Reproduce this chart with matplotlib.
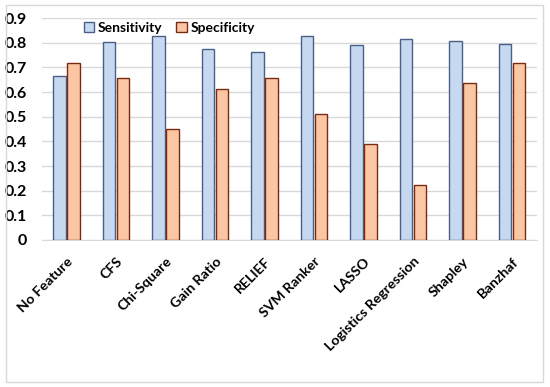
import numpy as np
import matplotlib.pyplot as plt
from matplotlib.patches import Rectangle

methods = ["No Feature", "CFS", "Chi-Square", "Gain Ratio", "RELIEF",
           "SVM Ranker", "LASSO", "Logistics Regression", "Shapley", "Banzhaf"]
sensitivity = [0.667, 0.804, 0.828, 0.774, 0.762, 0.828, 0.791, 0.815, 0.808, 0.797]
specificity = [0.718, 0.656, 0.452, 0.614, 0.656, 0.512, 0.389, 0.224, 0.637, 0.718]
yticks = [0, 0.1, 0.2, 0.3, 0.4, 0.5, 0.6, 0.7, 0.8, 0.9]

plt.rcParams['font.family'] = ['Lato', 'DejaVu Sans']

fig = plt.figure(figsize=(5.5, 3.87), dpi=100)
ax = fig.add_axes([0.076, 0.38, 0.9, 0.573])

x = np.arange(len(methods))
w = 0.25
ax.bar(x - 0.14, sensitivity, w, color='#C6D9F1', edgecolor='#4A5F85',
       linewidth=1, label='Sensitivity', zorder=3)
ax.bar(x + 0.14, specificity, w, color='#FBC6A4', edgecolor='#7A2A10',
       linewidth=1, label='Specificity', zorder=3)

ax.set_xlim(-0.5, len(methods) - 0.5)
ax.set_ylim(0, 0.9)
ax.set_yticks(yticks)
ax.set_yticklabels([f"{t:g}" for t in yticks], fontsize=11.5, fontweight='bold')
ax.set_xticks(x)
ax.set_xticklabels(methods, rotation=45, ha='right', rotation_mode='anchor',
                   fontsize=10.2, fontweight='bold')
ax.tick_params(axis='y', length=0, pad=11)
ax.tick_params(axis='x', length=0, pad=11)
ax.grid(axis='y', color='#D9D9D9', linewidth=1, zorder=0)
for s in ['top', 'right', 'left']:
    ax.spines[s].set_visible(False)
ax.spines['bottom'].set_color('#D9D9D9')

leg = ax.legend(loc='upper left', bbox_to_anchor=(0.06, 1.04), ncol=2, frameon=False,
                handlelength=0.75, handleheight=0.75, handletextpad=0.25,
                columnspacing=1.0, prop={'weight': 'bold', 'size': 10})

fig.patches.append(Rectangle((0.01, 0.012), 0.978, 0.975, transform=fig.transFigure,
                             fill=False, edgecolor='#D9D9D9', linewidth=1))

fig.savefig('out.png', dpi=100)
